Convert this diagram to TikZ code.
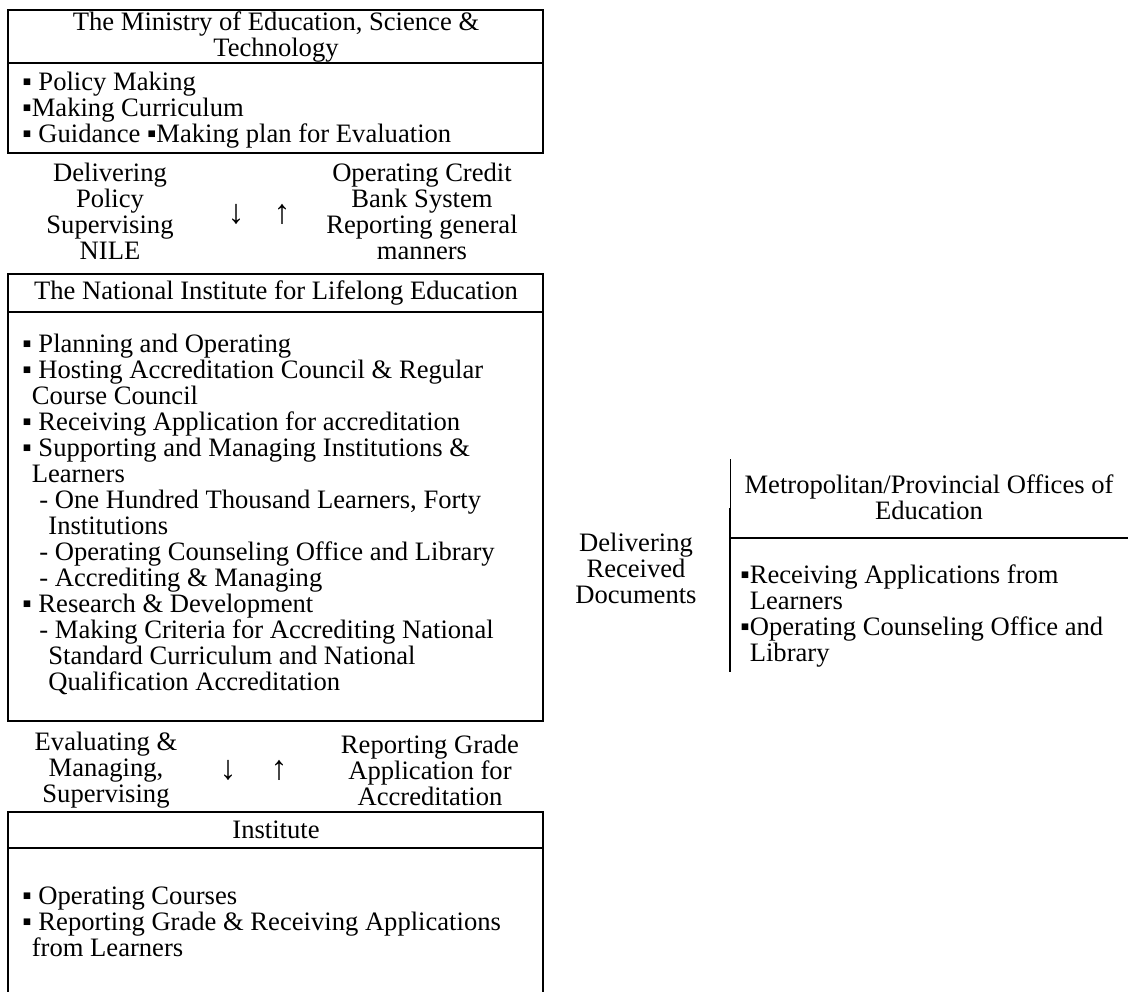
\documentclass[tikz,border=0pt]{standalone}
\usepackage{fontspec}
\setmainfont{Liberation Serif}
\begin{document}
\begin{tikzpicture}[x=0.5pt,y=-0.5pt]
\tikzstyle{frame}=[line width=0.85pt]
\tikzstyle{head}=[align=center,inner sep=0pt,font=\fontsize{13.3}{13}\selectfont]
\tikzstyle{list}=[align=left,anchor=west,inner sep=0pt,font=\fontsize{13.3}{13}\selectfont]
\tikzstyle{glyph}=[inner sep=0pt,font=\fontsize{17}{17}\selectfont]
\useasboundingbox (0,0) rectangle (1128,991);
% boxes
\draw[frame] (8,10) rectangle (543,153);
\draw[frame] (8,63) -- (543,63);
\draw[frame] (8,274) rectangle (543,721);
\draw[frame] (8,312) -- (543,312);
\draw[frame] (8,995) -- (8,812) -- (543,812) -- (543,995);
\draw[frame] (8,848) -- (543,848);
\draw[line width=0.4pt] (730,459) -- (730,508);
\draw[frame] (730,508) -- (730,672);
\draw[frame] (730,538) -- (1130,538);
% headers
\node[head] (ministry) at (276,37) {The Ministry of Education, Science \&\\Technology};
\node[head] (nile) at (276,293) {The National Institute for Lifelong Education};
\node[head] (institute) at (276,830) {Institute};
\node[head] (metro) at (929,497) {Metropolitan/Provincial Offices of\\Education};
% lists
\node[list] (ministrytasks) at (22,110) {▪ Policy Making\\▪Making Curriculum\\▪ Guidance ▪Making plan for Evaluation};
\node[list] (niletasks) at (22,514) {▪ Planning and Operating\\
▪ Hosting Accreditation Council \& Regular\\
\phantom{▪}Course Council\\
▪ Receiving Application for accreditation\\
▪ Supporting and Managing Institutions \&\\
\phantom{▪}Learners\\
\hspace*{8.5pt}- One Hundred Thousand Learners, Forty\\
\hspace*{13pt}Institutions\\
\hspace*{8.5pt}- Operating Counseling Office and Library\\
\hspace*{8.5pt}- Accrediting \& Managing\\
▪ Research \& Development\\
\hspace*{8.5pt}- Making Criteria for Accrediting National\\
\hspace*{13pt}Standard Curriculum and National\\
\hspace*{13pt}Qualification Accreditation};
\node[list] (institutetasks) at (22,922) {▪ Operating Courses\\▪ Reporting Grade \& Receiving Applications\\\phantom{▪}from Learners};
\node[list] (metrotasks) at (740,616) {▪Receiving Applications from\\\phantom{▪}Learners\\▪Operating Counseling Office and\\\phantom{▪}Library};
% flows
\node[head] (downone) at (110,211) {Delivering\\Policy\\Supervising\\NILE};
\node[glyph] (downarrowone) at (236,214) {↓};
\node[glyph] (uparrowone) at (282,214) {↑};
\node[head] (upone) at (422,211) {Operating Credit\\Bank System\\Reporting general\\manners};
\node[head] (downtwo) at (106,770) {Evaluating \&\\Managing,\\Supervising};
\node[glyph] (downarrowtwo) at (228,770) {↓};
\node[glyph] (uparrowtwo) at (279,770) {↑};
\node[head] (uptwo) at (430,770) {Reporting Grade\\Application for\\Accreditation};
\node[head] (delivering) at (636,568) {Delivering\\Received\\Documents};
\end{tikzpicture}
\end{document}
